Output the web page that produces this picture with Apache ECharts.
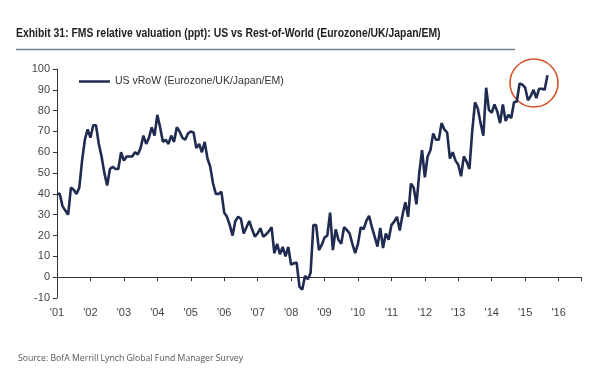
<!DOCTYPE html>
<html>
<head>
<meta charset="utf-8">
<script src="https://cdn.jsdelivr.net/npm/echarts@6/dist/echarts.min.js"></script>
<style>
html,body{margin:0;padding:0;background:#fff;}
#c{width:600px;height:375px;}
</style>
</head>
<body>
<div id="c"></div>
<script>
// Monthly series, starting Jan 2001
var startYear = 2001;
var seriesName = 'US vRoW (Eurozone/UK/Japan/EM)';
var values = [
  // 2001
  40, 40, 34, 32, 30, 43, 42, 40, 43, 56, 66, 71,
  // 2002
  67, 73, 73, 64, 58, 50, 44, 52, 53, 52, 52, 60,
  // 2003
  56, 58, 58, 58, 60, 59, 62, 68, 64, 67, 72, 68,
  // 2004
  78, 72, 65, 66, 64, 68, 65, 72, 70, 67, 66, 69,
  // 2005
  70, 69.5, 62, 64, 60, 65, 57, 53, 45, 40, 40, 41,
  // 2006
  31, 29, 25, 20, 27, 29, 28, 21, 24, 27, 23, 19.5,
  // 2007
  21, 23.5, 19.5, 20.5, 22, 24, 11.5, 16, 11, 14.5, 10, 14.5,
  // 2008
  6, 6.7, 7, -4.5, -6, 0.6, -1, 2, 25, 25, 13, 15.5,
  // 2009
  19, 20, 31, 13, 23, 18, 16, 24, 22.7, 21, 16, 11.5,
  // 2010
  16, 24, 23, 27, 29.5, 24, 19.5, 14.7, 23.6, 14, 21, 18,
  // 2011
  25, 26.7, 29, 22.4, 30, 36, 29, 45, 43, 35, 50, 61,
  // 2012
  48, 58, 61, 69, 66, 66, 74, 71, 69.5, 57, 60, 56,
  // 2013
  54, 48.5, 58, 55.5, 52, 70, 84, 81, 74, 68, 91, 80.4,
  // 2014
  79, 83, 79.6, 74, 83, 75, 78, 76.4, 84, 84.4, 93, 92.5,
  // 2015
  91, 85, 87, 90, 86, 90.5, 90.5, 90, 97
];
var yMin = -10, yMax = 100, yStep = 10;
var xMin = 2001, xMax = 2016.67;

var data = values.map(function (v, i) { return [startYear + i / 12, v]; });

var chart = echarts.init(document.getElementById('c'), null, {renderer: 'canvas'});
chart.setOption({
  animation: false,
  backgroundColor: '#ffffff',
  grid: {left: 57, right: 19, top: 69, bottom: 77, containLabel: false},
  legend: {
    show: true,
    left: 74, top: 71,
    itemWidth: 31, itemHeight: 10,
    icon: 'path://M0,4 L31,4 L31,6.5 L0,6.5 Z',
    itemGap: 4,
    textStyle: {fontFamily: 'Liberation Sans', fontSize: 10.5, color: '#333', padding: [0, 0, 0, 0]},
    data: [{name: seriesName, itemStyle: {color: '#1f2b50'}}]
  },
  xAxis: [{
    type: 'value', min: xMin, max: xMax, interval: 1,
    axisLine: {show: true, onZero: true, lineStyle: {color: '#333', width: 1}},
    axisTick: {show: true, length: 4, lineStyle: {color: '#333'}},
    axisLabel: {show: false},
    splitLine: {show: false}
  }, {
    type: 'value', min: xMin, max: xMax, interval: 1, position: 'bottom',
    axisLine: {show: false, onZero: false},
    axisTick: {show: false},
    axisLabel: {
      show: true, margin: 9, fontFamily: 'Liberation Sans', fontSize: 11, color: '#444',
      formatter: function (v) {
        var y = Math.round(v) % 100;
        return "'" + (y < 10 ? '0' + y : '' + y);
      },
      showMaxLabel: false
    },
    splitLine: {show: false}
  }],
  yAxis: {
    type: 'value', min: yMin, max: yMax, interval: yStep,
    axisLine: {show: true, lineStyle: {color: '#333', width: 1}},
    axisTick: {show: true, length: 4, lineStyle: {color: '#333'}},
    axisLabel: {margin: 7, fontFamily: 'Liberation Sans', fontSize: 11, color: '#444'},
    splitLine: {show: false}
  },
  series: [{
    name: seriesName,
    type: 'line',
    xAxisIndex: 0,
    data: data,
    showSymbol: false,
    symbol: 'none',
    lineStyle: {color: '#1f2b50', width: 2.6},
    itemStyle: {color: '#1f2b50'}
  }],
  graphic: [
    {type: 'text', x: 16, y: 33, scaleX: 0.8, scaleY: 1,
     style: {text: 'Exhibit 31: FMS relative valuation (ppt): US vs Rest-of-World (Eurozone/UK/Japan/EM)', font: 'bold 13px "Liberation Sans"', fill: '#222', textVerticalAlign: 'middle', verticalAlign: 'middle'}},
    {type: 'line', shape: {x1: 16, y1: 49.5, x2: 515, y2: 49.5}, style: {stroke: '#6f7f97', lineWidth: 1.5}},
    {type: 'text', left: 18, top: 354, style: {text: 'Source: BofA Merrill Lynch Global Fund Manager Survey', font: '8.7px "Open Sans"', fill: '#555'}},
    {type: 'circle', shape: {cx: 534, cy: 83, r: 24}, style: {fill: 'none', stroke: '#d6542d', lineWidth: 1.6}}
  ]
});
</script>
</body>
</html>
